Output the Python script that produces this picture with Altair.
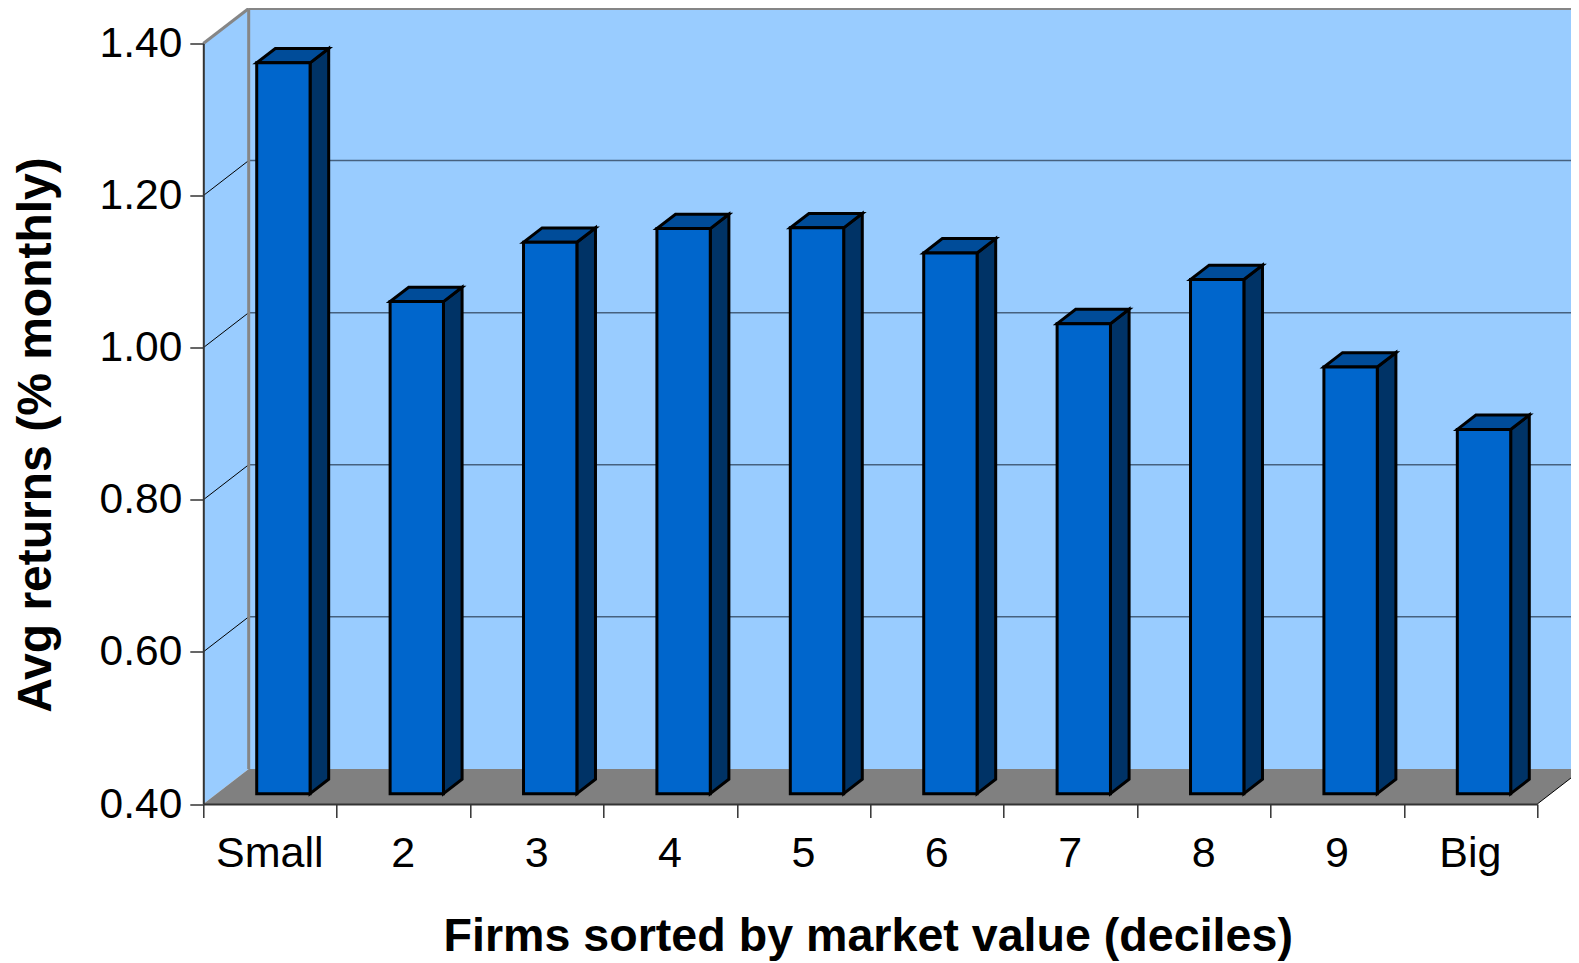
import altair as alt
import pandas as pd

categories = ["Small", "2", "3", "4", "5", "6", "7", "8", "9", "Big"]
returns = [1.361, 1.047, 1.125, 1.143, 1.144, 1.111, 1.018, 1.076, 0.961, 0.879]
grid_values = [0.6, 0.8, 1.0, 1.2]
y_ticks = [0.4, 0.6, 0.8, 1.0, 1.2, 1.4]
x_ticks = list(range(11))

Y0, Y1 = 0.4, 1.4
N = len(categories)
DX, DY = 0.3403, 0.0461          # wall depth in axis units
BAR_W = 0.40                     # bar width in axis units
F_BAR0, F_BAR1 = 0.295, 0.705    # bar's position through the depth

PX_W, PX_H = 1334, 760.5
PAD = {"left": 195.3, "top": 35.5, "right": 33.7, "bottom": 159}

x_scale = alt.Scale(domain=[0, N], nice=False, zero=False)
y_scale = alt.Scale(domain=[Y0, Y1], nice=False, zero=False)


def area(rows, **mark):
    return alt.Chart(pd.DataFrame(rows)).mark_area(**mark).encode(y2="y2:Q", detail="g:N")


def poly(g, pts):
    return [dict(g=g, x=a, y=b, y2=c) for a, b, c in pts]


def rules(rows, **mark):
    return alt.Chart(pd.DataFrame(rows)).mark_rule(**mark).encode(x2="x2:Q", y2="y2:Q")


left_wall = area(poly(0, [(0, Y0, Y1), (DX, Y0 + DY, Y1 + DY)]), color="#99CCFF")
back_wall = area(poly(0, [(DX, Y0 + DY, Y1 + DY), (N + DX, Y0 + DY, Y1 + DY)]), color="#99CCFF")
floor = area(poly(0, [(0, Y0, Y0), (DX, Y0, Y0 + DY), (N, Y0, Y0 + DY), (N + DX, Y0 + DY, Y0 + DY)]),
             color="#808080")

grid_back = rules([dict(x=DX, x2=N + DX, y=v + DY, y2=v + DY) for v in grid_values],
                  stroke="#46617f", strokeWidth=1.5)
grid_side = rules([dict(x=0, x2=DX, y=v, y2=v + DY) for v in grid_values],
                  stroke="#000000", strokeWidth=1)
floor_edge = rules([dict(x=N, x2=N + DX, y=Y0, y2=Y0 + DY)], stroke="#000000", strokeWidth=1)
wall_edges = rules([
    dict(x=DX, x2=DX, y=Y0 + DY, y2=Y1 + DY),
    dict(x=DX, x2=N + DX, y=Y1 + DY, y2=Y1 + DY),
    dict(x=0, x2=DX, y=Y1, y2=Y1 + DY),
], stroke="#868686", strokeWidth=3)

side_rows, top_rows, front_rows = [], [], []
for i, v in enumerate(returns):
    x0 = i + 0.5 - BAR_W / 2 + F_BAR0 * DX
    x1 = x0 + BAR_W
    b = Y0 + F_BAR0 * DY
    t = v + F_BAR0 * DY
    d_x = (F_BAR1 - F_BAR0) * DX
    d_y = (F_BAR1 - F_BAR0) * DY
    front_rows.append(dict(x=x0, x2=x1, y=b, y2=t))
    side_rows += poly(i, [(x1, b, t), (x1 + d_x, b + d_y, t + d_y)])
    top_rows += poly(i, [(x0, t, t), (x0 + d_x, t, t + d_y), (x1, t, t + d_y), (x1 + d_x, t + d_y, t + d_y)])

bar_style = dict(stroke="#000000", strokeWidth=3, strokeJoin="miter")
sides = area(side_rows, color="#003366", **bar_style)
tops = area(top_rows, color="#004C99", **bar_style)
fronts = alt.Chart(pd.DataFrame(front_rows)).mark_rect(color="#0066CC", **bar_style).encode(
    x2="x2:Q", y2="y2:Q")

label_expr = "datum.value < %d ? %s[datum.value] : ''" % (N, str(categories))

chart = alt.layer(left_wall, back_wall, floor, grid_back, grid_side, floor_edge, wall_edges,
                  sides, tops, fronts).encode(
    x=alt.X("x:Q", scale=x_scale, title="Firms sorted by market value (deciles)", axis=alt.Axis(
        values=x_ticks, labelExpr=label_expr, labelOffset=66, labelOverlap=False,
        labelFlush=False, labelBound=False, grid=False, tickSize=13.5, tickWidth=1.5, tickColor="#333333",
        domainColor="#333333", domainWidth=2, labelFont="Liberation Sans", labelFontSize=43,
        labelColor="#000000", labelPadding=15, titleFont="Liberation Sans", titleFontSize=46.6,
        titleFontWeight="bold", titleColor="#000000", titlePadding=38, titleX=664.4, zindex=1)),
    y=alt.Y("y:Q", scale=y_scale, title="Avg returns (% monthly)", axis=alt.Axis(
        values=y_ticks, format=".2f", labelOverlap=False, labelFlush=False, labelBound=False, grid=False,
        tickSize=13.5, tickWidth=1.5, tickColor="#333333", domainColor="#333333", domainWidth=2,
        labelFont="Liberation Sans", labelFontSize=42.5, labelColor="#000000", labelPadding=8,
        titleFont="Liberation Sans", titleFontSize=48, titleFontWeight="bold", titleColor="#000000",
        titlePadding=39, titleY=391, zindex=1)),
).properties(
    width=PX_W, height=PX_H, padding=PAD, autosize=alt.AutoSizeParams(type="none"),
).configure_view(stroke=None)

chart.save("out.html", embed_options={"renderer": "svg", "actions": False})
